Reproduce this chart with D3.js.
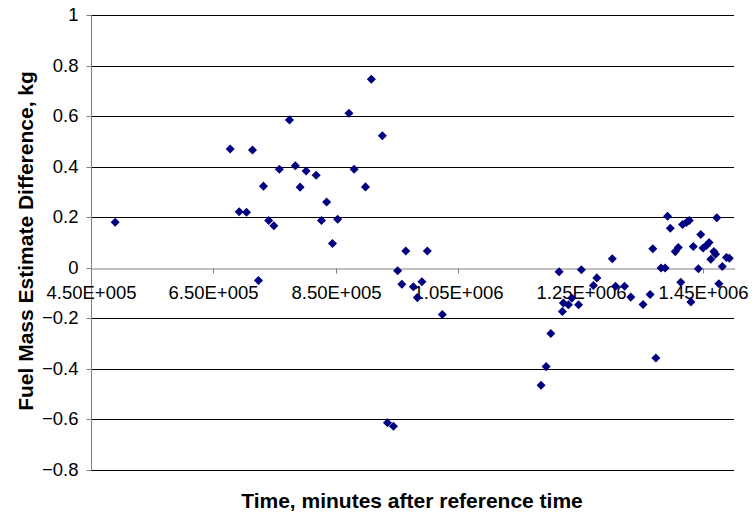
<!DOCTYPE html>
<html lang="en">
<head>
    <meta charset="UTF-8">
    <title>Fuel Mass Estimate Difference</title>
    <script src="https://cdnjs.cloudflare.com/ajax/libs/d3/7.8.5/d3.min.js"></script>
    <style>
        html, body { margin: 0; padding: 0; background: #fff; }
        svg { display: block; font-family: Arial, "Liberation Sans", sans-serif; }
    </style>
</head>
<body>
<svg width="755" height="516"></svg>

<script>
    // time (minutes after reference) and fuel mass difference (kg)
    const times = [
        489500, 677300, 692000, 703900, 713700, 723500, 731600, 740100, 748600, 757600,
        774100, 783700, 791500, 801300, 817700, 826300, 834800, 844300, 852800, 871200,
        879700, 898200, 907800, 925800, 934100, 943900, 950700, 957600, 964100, 976400,
        982900, 990400, 999200, 1023700,
        1185000, 1193200, 1200900, 1214400, 1219800, 1221400, 1229600, 1235100, 1246200, 1250800,
        1270400, 1276000, 1301300, 1306600, 1321300, 1331500, 1351500, 1363000, 1367400, 1372400,
        1380900, 1387500, 1391500, 1396000, 1404100, 1409000, 1413100, 1416000, 1422200, 1427000,
        1429600, 1433500, 1441800, 1445700, 1449500, 1454900, 1459300, 1462200, 1467100, 1469900,
        1471900, 1475300, 1480900, 1487700, 1492300
    ];
    const massDiff = [
        0.180, 0.470, 0.222, 0.220, 0.466, -0.050, 0.323, 0.187, 0.166, 0.390,
        0.585, 0.404, 0.319, 0.383, 0.366, 0.187, 0.260, 0.096, 0.192, 0.611,
        0.390, 0.320, 0.746, 0.522, -0.613, -0.627, -0.012, -0.065, 0.066, -0.075,
        -0.118, -0.055, 0.066, -0.185,
        -0.465, -0.391, -0.260, -0.016, -0.173, -0.139, -0.146, -0.120, -0.146, -0.008,
        -0.070, -0.040, 0.036, -0.073, -0.073, -0.116, -0.145, -0.106, 0.075, -0.357,
        -0.001, -0.001, 0.204, 0.156, 0.064, 0.080, -0.057, 0.171, 0.179, 0.187,
        -0.135, 0.084, -0.004, 0.132, 0.078, 0.088, 0.100, 0.034, 0.064, 0.054,
        0.198, -0.063, 0.005, 0.041, 0.038
    ];
    const xTicks = [450000, 650000, 850000, 1050000, 1250000, 1450000];
    const yTicks = [-0.8, -0.6, -0.4, -0.2, 0, 0.2, 0.4, 0.6, 0.8, 1];

    const svg = d3.select("svg");
    const plotLeft = 91, plotRight = 734, plotTop = 15, plotBottom = 470;

    const x = d3.scaleLinear().domain([450000, 1500000]).range([plotLeft, plotRight]);
    const y = d3.scaleLinear().domain([-0.8, 1]).range([plotBottom, plotTop]);

    const fmtX = v => {
        // Excel style 4.50E+005
        const e = Math.floor(Math.log10(v));
        const m = v / Math.pow(10, e);
        return m.toFixed(2) + "E+" + String(e).padStart(3, "0");
    };

    // horizontal gridlines
    svg.append("g")
        .selectAll("line")
        .data(yTicks.filter(d => d !== 0))
        .enter()
        .append("line")
        .attr("x1", plotLeft)
        .attr("x2", plotRight)
        .attr("y1", d => Math.round(y(d)) + 0.5)
        .attr("y2", d => Math.round(y(d)) + 0.5)
        .attr("stroke", "#000")
        .attr("stroke-width", 1);

    // y axis
    const yAxis = svg.append("g")
        .attr("transform", `translate(${plotLeft + 0.5},0.5)`)
        .call(d3.axisLeft(y).tickValues(yTicks).tickSize(5).tickSizeOuter(0).tickPadding(8)
            .tickFormat(d => d3.format("")(+d.toFixed(1))));
    yAxis.select(".domain").attr("stroke", "#808080").attr("d", `M0,${Math.round(y(1))}V${Math.round(y(-0.8))}`);
    yAxis.selectAll(".tick line").attr("stroke", "#808080");
    yAxis.selectAll(".tick").attr("transform", d => `translate(0,${Math.round(y(d))})`);
    yAxis.selectAll("text")
        .attr("font-size", 18.5)
        .attr("font-family", "Arial, 'Liberation Sans', sans-serif")
        .attr("fill", "#000");

    // x axis crossing at zero
    const xAxis = svg.append("g")
        .attr("transform", `translate(0.5,${Math.round(y(0)) + 0.5})`)
        .call(d3.axisBottom(x).tickValues(xTicks).tickSize(5).tickSizeOuter(0).tickPadding(12)
            .tickFormat(fmtX));
    xAxis.select(".domain").attr("stroke", "#808080");
    xAxis.selectAll(".tick line").attr("stroke", "#808080");
    xAxis.selectAll(".tick").attr("transform", d => `translate(${Math.round(x(d))},0)`);
    xAxis.selectAll("text")
        .attr("font-size", 18.5)
        .attr("font-family", "Arial, 'Liberation Sans', sans-serif")
        .attr("fill", "#000");

    // data points, navy diamonds
    const diamond = d3.symbol(d3.symbolSquare, 41);
    svg.append("g")
        .selectAll("path")
        .data(times.map((t, i) => [t, massDiff[i]]))
        .enter()
        .append("path")
        .attr("d", diamond)
        .attr("transform", d => `translate(${x(d[0])},${y(d[1])}) rotate(45)`)
        .attr("fill", "#000080");

    // axis titles
    svg.append("text")
        .attr("x", 412)
        .attr("y", 508)
        .attr("text-anchor", "middle")
        .attr("font-size", 21)
        .attr("font-weight", "bold")
        .text("Time, minutes after reference time");

    svg.append("text")
        .attr("transform", "translate(33,241) rotate(-90)")
        .attr("text-anchor", "middle")
        .attr("font-size", 21)
        .attr("font-weight", "bold")
        .text("Fuel Mass Estimate Difference, kg");
</script>
</body>
</html>
